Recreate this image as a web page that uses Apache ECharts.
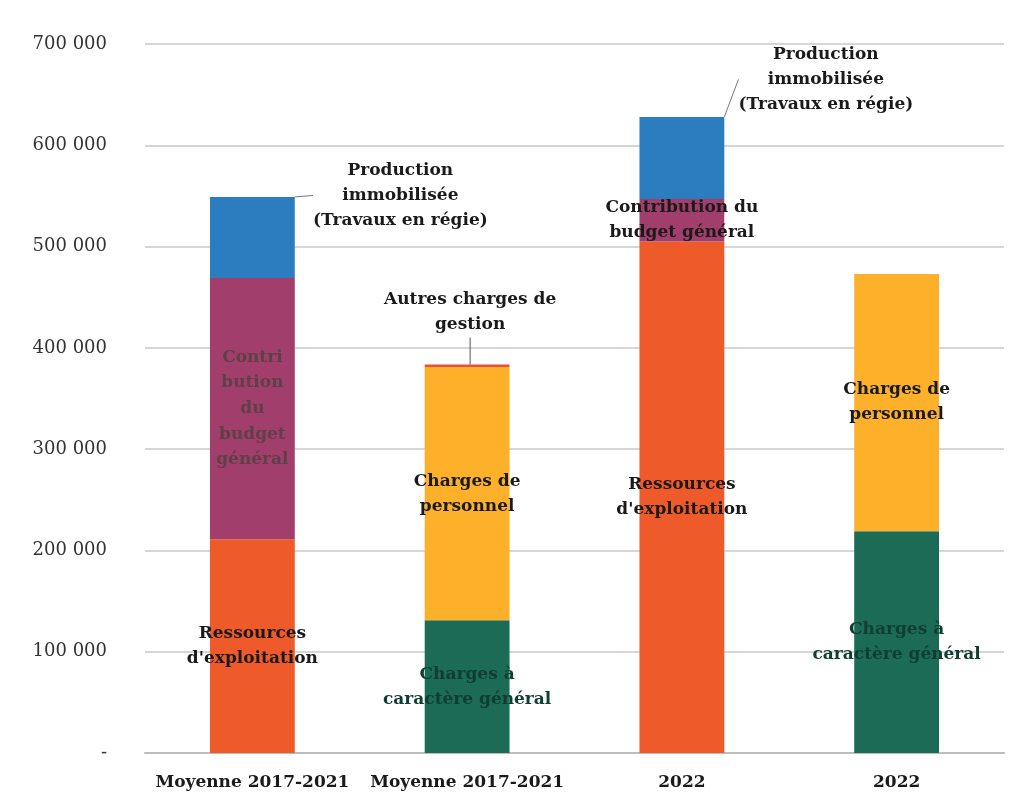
<!DOCTYPE html>
<html>
<head>
<meta charset="utf-8">
<script src="https://cdn.jsdelivr.net/npm/echarts@6/dist/echarts.min.js"></script>
<style>html,body{margin:0;padding:0;background:#fff;}#c{width:1017px;height:802px;}</style>
</head>
<body>
<div id="c"></div>
<script>
const categories = ['Moyenne 2017-2021', 'Moyenne 2017-2021', '2022', '2022'];
const ressources = [211000, null, 505000, null];
const contribution = [258000, null, 42000, null];
const production = [80000, null, 81000, null];
const chargesGen = [null, 131000, null, 219000];
const chargesPers = [null, 250000, null, 254000];
const autres = [null, 2500, null, null];

const labRessources = 'Ressources\nd\'exploitation';
const labContrib1 = 'Contri\nbution\ndu\nbudget\ngénéral';
const labContrib2 = 'Contribution du\nbudget général';
const labProd = 'Production\nimmobilisée\n(Travaux en régie)';
const labGen = 'Charges à\ncaractère général';
const labPers = 'Charges de\npersonnel';
const labAutres = 'Autres charges de\ngestion';

const FONT = 'DejaVu Serif';
const baseLabel = {
  show: true, fontFamily: FONT, fontWeight: 'bold', fontSize: 17, lineHeight: 25, color: '#1a1a1a'
};

function fmt(v) {
  if (v === 0) return '-';
  return String(v).replace(/\B(?=(\d{3})+(?!\d))/g, ' ');
}

const chart = echarts.init(document.getElementById('c'));
chart.setOption({
  backgroundColor: '#ffffff',
  animation: false,
  grid: { left: 145, right: 13, top: 44, bottom: 49 },
  xAxis: {
    type: 'category',
    data: categories,
    axisLine: { show: true, lineStyle: { color: '#bdbdbd', width: 2 } },
    axisTick: { show: false },
    axisLabel: { fontFamily: FONT, fontWeight: 'bold', fontSize: 17, color: '#1a1a1a', margin: 21, interval: 0 }
  },
  yAxis: {
    type: 'value', min: 0, max: 700000, interval: 100000,
    axisLine: { show: false }, axisTick: { show: false },
    splitLine: { lineStyle: { color: '#d6d6d6', width: 2 } },
    axisLabel: { fontFamily: FONT, fontSize: 18, color: '#333', margin: 38, formatter: fmt }
  },
  series: [
    {
      name: 'Ressources d\'exploitation', type: 'bar', stack: 'a', barWidth: '39.5%',
      itemStyle: { color: '#EF5A2B' },
      label: Object.assign({}, baseLabel, { position: 'inside', formatter: labRessources }),
      data: ressources
    },
    {
      name: 'Contribution du budget général', type: 'bar', stack: 'a',
      itemStyle: { color: '#A23E6C' },
      label: Object.assign({}, baseLabel, { position: 'inside' }),
      data: contribution.map((v, i) => v == null ? null : ({
        value: v,
        label: i === 0
          ? { formatter: labContrib1, color: '#5e4048', lineHeight: 25.7 }
          : { formatter: labContrib2, color: '#1a1a1a' }
      }))
    },
    {
      name: 'Production immobilisée', type: 'bar', stack: 'a',
      itemStyle: { color: '#2B7DC0' },
      label: Object.assign({}, baseLabel, { position: 'top', formatter: labProd }),
      labelLine: { show: true, lineStyle: { color: '#777', width: 1 } },
      labelLayout: function (p) {
        return p.dataIndex === 0 ? { dx: 148, dy: 41 } : { dx: 144, dy: 5 };
      },
      data: production
    },
    {
      name: 'Charges à caractère général', type: 'bar', stack: 'a',
      itemStyle: { color: '#1C6B56' },
      label: Object.assign({}, baseLabel, { position: 'inside', formatter: labGen, color: '#0f3d31' }),
      data: chargesGen
    },
    {
      name: 'Charges de personnel', type: 'bar', stack: 'a',
      itemStyle: { color: '#FDB12B' },
      label: Object.assign({}, baseLabel, { position: 'inside', formatter: labPers }),
      data: chargesPers
    },
    {
      name: 'Autres charges de gestion', type: 'bar', stack: 'a',
      itemStyle: { color: '#E8503A' },
      label: Object.assign({}, baseLabel, { position: 'top', formatter: labAutres }),
      labelLine: { show: true, lineStyle: { color: '#555', width: 1 } },
      labelLayout: { dx: 3, dy: -22 },
      data: autres
    }
  ]
});
</script>
</body>
</html>
